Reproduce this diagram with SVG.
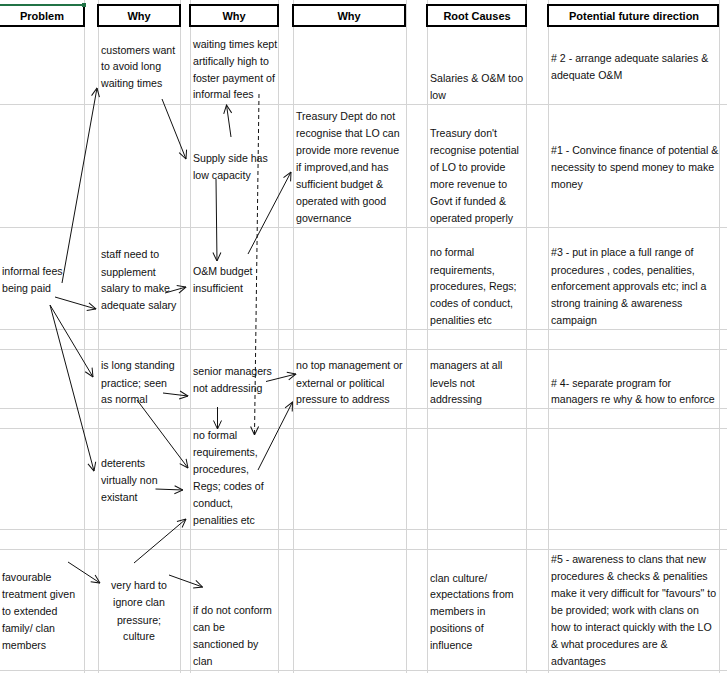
<svg xmlns="http://www.w3.org/2000/svg" width="727" height="673" viewBox="0 0 727 673">
<style>
.grid line{stroke:#d4d4d4;stroke-width:1}
.hdr rect{fill:none;stroke:#000;stroke-width:2}
.hdr text{font-family:"Liberation Sans",Arial,sans-serif;font-size:11px;font-weight:bold;fill:#000;text-anchor:middle}
.cell text{font-family:"Liberation Sans",Arial,sans-serif;font-size:10.6px;fill:#111}
.conn line{stroke:#111;stroke-width:1;fill:none;marker-end:url(#arr)}
.conn .dash{stroke-dasharray:4,3}
</style>
<defs>
<marker id="arr" markerUnits="userSpaceOnUse" viewBox="0 0 10 10" markerWidth="10" markerHeight="10" refX="9.5" refY="5" orient="auto">
<path d="M1,1 L9.5,5 L1,9" fill="none" stroke="#111" stroke-width="1"/>
</marker>
</defs>
<rect width="727" height="673" fill="#fff"/>
<g class="grid">
<line x1="84.5" y1="0" x2="84.5" y2="673"/>
<line x1="98.5" y1="0" x2="98.5" y2="673"/>
<line x1="180.5" y1="0" x2="180.5" y2="673"/>
<line x1="190.5" y1="0" x2="190.5" y2="673"/>
<line x1="278.5" y1="0" x2="278.5" y2="673"/>
<line x1="293.5" y1="0" x2="293.5" y2="673"/>
<line x1="406.5" y1="0" x2="406.5" y2="673"/>
<line x1="427.5" y1="0" x2="427.5" y2="673"/>
<line x1="526.5" y1="0" x2="526.5" y2="673"/>
<line x1="548.5" y1="0" x2="548.5" y2="673"/>
<line x1="719.5" y1="0" x2="719.5" y2="673"/>
<line x1="0" y1="104.5" x2="727" y2="104.5"/>
<line x1="0" y1="227.5" x2="727" y2="227.5"/>
<line x1="0" y1="329.5" x2="727" y2="329.5"/>
<line x1="0" y1="349.5" x2="727" y2="349.5"/>
<line x1="0" y1="408.5" x2="727" y2="408.5"/>
<line x1="0" y1="428.5" x2="727" y2="428.5"/>
<line x1="0" y1="529.5" x2="727" y2="529.5"/>
<line x1="0" y1="549.5" x2="727" y2="549.5"/>
<line x1="0" y1="670.5" x2="727" y2="670.5"/>
</g>
<g class="hdr" id="headers">
<path d="M0,26 H84 V5" fill="none" stroke="#000" stroke-width="2"/>
<line x1="0" y1="5" x2="84" y2="5" stroke="#217346" stroke-width="2"/>
<rect x="82" y="3" width="4" height="4" style="fill:#217346;stroke:none"/>
<text x="42" y="20">Problem</text>
<rect x="98" y="5" width="82" height="21"/>
<text x="139" y="20">Why</text>
<rect x="190" y="5" width="88" height="21"/>
<text x="234" y="20">Why</text>
<rect x="293" y="5" width="112" height="21"/>
<text x="349" y="20">Why</text>
<rect x="427" y="5" width="99" height="21"/>
<text x="477" y="20">Root Causes</text>
<rect x="548" y="5" width="170" height="21"/>
<text x="634" y="20">Potential future direction</text>
</g>
<g class="cell" id="n-informal-fees"><text x="2" y="275">informal fees</text><text x="2" y="292">being paid</text></g>
<g class="cell" id="n-favourable"><text x="2" y="581">favourable</text><text x="2" y="597.5">treatment given</text><text x="2" y="615">to extended</text><text x="2" y="632">family/ clan</text><text x="2" y="649">members</text></g>
<g class="cell" id="n-customers"><text x="101" y="53.5">customers want</text><text x="101" y="70">to avoid long</text><text x="101" y="87">waiting times</text></g>
<g class="cell" id="n-staff"><text x="101" y="258">staff need to</text><text x="101" y="275.5">supplement</text><text x="101" y="292">salary to make</text><text x="101" y="309">adequate salary</text></g>
<g class="cell" id="n-long-standing"><text x="101" y="369">is long standing</text><text x="101" y="386.5">practice; seen</text><text x="101" y="403">as normal</text></g>
<g class="cell" id="n-deterents"><text x="101" y="467">deterents</text><text x="101" y="484">virtually non</text><text x="101" y="501">existant</text></g>
<g class="cell" id="n-hard-clan"><text x="139" y="589" text-anchor="middle">very hard to</text><text x="139" y="606" text-anchor="middle">ignore clan</text><text x="139" y="623.5" text-anchor="middle">pressure;</text><text x="139" y="640" text-anchor="middle">culture</text></g>
<g class="cell" id="n-waiting-kept"><text x="193" y="47.5">waiting times kept</text><text x="193" y="64.5">artifically high to</text><text x="193" y="81.5">foster payment of</text><text x="193" y="98">informal fees</text></g>
<g class="cell" id="n-supply"><text x="193" y="162">Supply side has</text><text x="193" y="179">low capacity</text></g>
<g class="cell" id="n-om-budget"><text x="193" y="275">O&amp;M budget</text><text x="193" y="292">insufficient</text></g>
<g class="cell" id="n-senior"><text x="193" y="375">senior managers</text><text x="193" y="392">not addressing</text></g>
<g class="cell" id="n-no-formal"><text x="193" y="439">no formal</text><text x="193" y="456">requirements,</text><text x="193" y="473">procedures,</text><text x="193" y="490">Regs; codes of</text><text x="193" y="507">conduct,</text><text x="193" y="524">penalities etc</text></g>
<g class="cell" id="n-sanctioned"><text x="193" y="614">if do not conform</text><text x="193" y="631">can be</text><text x="193" y="648">sanctioned by</text><text x="193" y="665">clan</text></g>
<g class="cell" id="n-treasury"><text x="296" y="120">Treasury Dept do not</text><text x="296" y="137">recognise that LO can</text><text x="296" y="154">provide more revenue</text><text x="296" y="171">if improved,and has</text><text x="296" y="188">sufficient budget &amp;</text><text x="296" y="205">operated with good</text><text x="296" y="221.5">governance</text></g>
<g class="cell" id="n-no-top"><text x="296" y="369">no top management or</text><text x="296" y="386.5">external or political</text><text x="296" y="403">pressure to address</text></g>
<g class="cell" id="r-salaries"><text x="430" y="82">Salaries &amp; O&amp;M too</text><text x="430" y="99">low</text></g>
<g class="cell" id="r-treasury"><text x="430" y="137">Treasury don't</text><text x="430" y="154">recognise potential</text><text x="430" y="171">of LO to provide</text><text x="430" y="188">more revenue to</text><text x="430" y="205">Govt if funded &amp;</text><text x="430" y="222">operated properly</text></g>
<g class="cell" id="r-no-formal"><text x="430" y="256">no formal</text><text x="430" y="273.5">requirements,</text><text x="430" y="290">procedures, Regs;</text><text x="430" y="307">codes of conduct,</text><text x="430" y="323.5">penalities etc</text></g>
<g class="cell" id="r-managers"><text x="430" y="369">managers at all</text><text x="430" y="386.5">levels not</text><text x="430" y="403">addressing</text></g>
<g class="cell" id="r-clan"><text x="430" y="581.5">clan culture/</text><text x="430" y="598">expectations from</text><text x="430" y="615">members in</text><text x="430" y="632">positions of</text><text x="430" y="649">influence</text></g>
<g class="cell" id="d-2"><text x="551" y="61.5"># 2 - arrange adequate salaries &amp;</text><text x="551" y="79">adequate O&amp;M</text></g>
<g class="cell" id="d-1"><text x="551" y="154">#1 - Convince finance of potential &amp;</text><text x="551" y="171">necessity to spend money to make</text><text x="551" y="188">money</text></g>
<g class="cell" id="d-3"><text x="551" y="256">#3 - put in place a full range of</text><text x="551" y="273.5">procedures , codes, penalities,</text><text x="551" y="290">enforcement approvals etc; incl a</text><text x="551" y="307">strong training &amp; awareness</text><text x="551" y="323.5">campaign</text></g>
<g class="cell" id="d-4"><text x="551" y="386.5"># 4- separate program for</text><text x="551" y="403">managers re why &amp; how to enforce</text></g>
<g class="cell" id="d-5"><text x="551" y="563">#5 - awareness to clans that new</text><text x="551" y="580">procedures &amp; checks &amp; penalities</text><text x="551" y="597">make it very difficult for "favours" to</text><text x="551" y="614">be provided; work with clans on</text><text x="551" y="631">how to interact quickly with the LO</text><text x="551" y="648">&amp; what procedures are &amp;</text><text x="551" y="665">advantages</text></g>
<g class="conn" id="connectors">
<line x1="62" y1="283" x2="97" y2="88"/>
<line x1="55" y1="297" x2="96" y2="309"/>
<line x1="50" y1="305" x2="93" y2="377"/>
<line x1="50" y1="305" x2="94" y2="471"/>
<line x1="162" y1="99" x2="186" y2="159"/>
<line x1="231" y1="137" x2="226.5" y2="105"/>
<line x1="216" y1="179" x2="217" y2="261"/>
<line class="dash" x1="259" y1="94" x2="254.5" y2="435"/>
<line x1="248" y1="254" x2="291" y2="172"/>
<line x1="165" y1="293" x2="186" y2="287"/>
<line x1="163" y1="393" x2="188" y2="396"/>
<line x1="266" y1="381.5" x2="296" y2="374"/>
<line x1="217.5" y1="407" x2="217.5" y2="429"/>
<line x1="137" y1="400" x2="188" y2="468"/>
<line x1="155.5" y1="489" x2="183" y2="490"/>
<line x1="258" y1="470" x2="292.5" y2="402"/>
<line x1="134" y1="563" x2="186" y2="519"/>
<line x1="68" y1="562" x2="100" y2="583"/>
<line x1="169" y1="575" x2="202.5" y2="587"/>
</g>
</svg>
